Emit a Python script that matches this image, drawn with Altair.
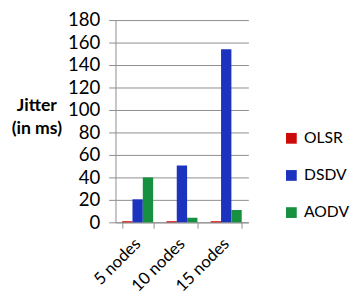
import altair as alt
import pandas as pd

categories = ["5 nodes", "10 nodes", "15 nodes"]
protocols = ["OLSR", "DSDV", "AODV"]
olsr = [1, 1, 1]
dsdv = [20.5, 50.5, 154]
aodv = [40, 4, 11]
colors = ["#cc0a0a", "#1c33c0", "#17903f"]

rows = []
for name, vals in zip(protocols, [olsr, dsdv, aodv]):
    for c, v in zip(categories, vals):
        rows.append({"nodes": c, "protocol": name, "jitter": v})
df = pd.DataFrame(rows)

FONT = "Lato"
GRID = "#8c8c8c"

chart = alt.Chart(df).mark_bar().encode(
    x=alt.X("nodes:N", sort=categories,
            scale=alt.Scale(paddingInner=0.3, paddingOuter=0.15),
            axis=alt.Axis(title=None, labelAngle=-45, labelAlign="right",
                          labelBaseline="middle", labelFontSize=17,
                          labelFont=FONT, labelColor="#000000",
                          labelPadding=13, tickBand="extent", tickSize=6,
                          tickColor=GRID, domainColor=GRID, grid=False)),
    xOffset=alt.XOffset("protocol:N", sort=protocols),
    y=alt.Y("jitter:Q", scale=alt.Scale(domain=[0, 180], nice=False),
            axis=alt.Axis(values=list(range(0, 181, 20)),
                          title=["Jitter", "(in ms)"], titleAngle=0,
                          titleFont=FONT, titleFontSize=18, titleFontWeight="bold",
                          titleAlign="center", titleBaseline="alphabetic",
                          titleX=-81, titleY=93, titleLineHeight=23,
                          titleColor="#000000",
                          labelFontSize=19, labelFont=FONT, labelColor="#000000",
                          labelPadding=9, tickSize=7, tickColor=GRID,
                          domainColor=GRID, gridColor=GRID)),
    color=alt.Color("protocol:N", sort=protocols,
                    scale=alt.Scale(domain=protocols, range=colors),
                    legend=alt.Legend(title=None, orient="none",
                                      legendX=172, legendY=113,
                                      symbolType="square", symbolSize=121,
                                      symbolStrokeWidth=0,
                                      labelFont=FONT, labelFontSize=16,
                                      labelColor="#000000", labelOffset=5,
                                      rowPadding=22)),
).properties(
    width=136, height=207,
    autosize=alt.AutoSizeParams(type="none"),
    padding={"left": 110, "top": 9, "right": 104, "bottom": 72},
).configure_view(stroke=None)

chart.save("out.html", embed_options={"renderer": "svg", "actions": False})
